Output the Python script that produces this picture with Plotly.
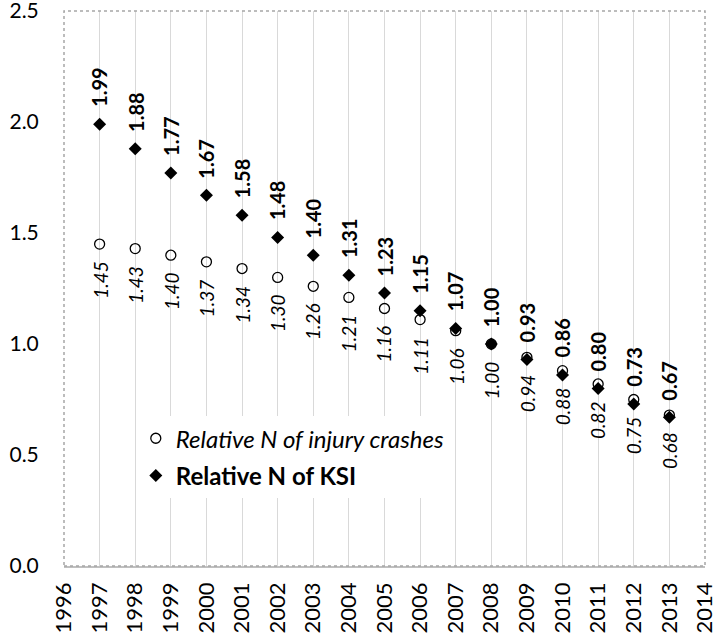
import plotly.graph_objects as go

years = list(range(1997, 2014))
injury = [1.45, 1.43, 1.40, 1.37, 1.34, 1.30, 1.26, 1.21, 1.16, 1.11, 1.06, 1.00, 0.94, 0.88, 0.82, 0.75, 0.68]
ksi = [1.99, 1.88, 1.77, 1.67, 1.58, 1.48, 1.40, 1.31, 1.23, 1.15, 1.07, 1.00, 0.93, 0.86, 0.80, 0.73, 0.67]
x_ticks = list(range(1996, 2015))
y_ticks = [0.0, 0.5, 1.0, 1.5, 2.0, 2.5]

FONT = "Lato"

fig = go.Figure()
fig.add_trace(go.Scatter(
    x=years, y=injury, mode="markers",
    name="<i>Relative N of injury crashes</i>",
    legendgroup="a",
    marker=dict(symbol="circle-open", size=10, color="black", line=dict(width=1.3, color="black")),
))
fig.add_trace(go.Scatter(
    x=years, y=ksi, mode="markers",
    name="<b>Relative N of KSI</b>",
    legendgroup="b",
    marker=dict(symbol="diamond", size=10, color="black"),
))

annotations = []
for yr, v in zip(years, ksi):
    annotations.append(dict(
        x=yr, y=v, xref="x", yref="y", text=f"{v:.2f}", showarrow=False,
        textangle=-90, xanchor="center", yanchor="bottom", yshift=15,
        font=dict(family=FONT, size=20, color="black", weight="bold"),
    ))
for yr, v in zip(years, injury):
    annotations.append(dict(
        x=yr, y=v, xref="x", yref="y", text=f"{v:.2f}", showarrow=False,
        textangle=-90, xanchor="center", yanchor="top", yshift=-15,
        font=dict(family=FONT, size=19, color="black", style="italic"),
    ))

fig.update_layout(
    width=713, height=640,
    margin=dict(l=64, r=8, t=11, b=74, autoexpand=False),
    paper_bgcolor="white", plot_bgcolor="white",
    font=dict(family=FONT, size=21, color="black"),
    showlegend=True,
    legend=dict(
        x=0.112, y=0.27, xanchor="left", yanchor="top",
        bgcolor="white", borderwidth=0,
        font=dict(family=FONT, size=24, color="black"),
        tracegroupgap=3, traceorder="grouped",
    ),
    annotations=annotations,
    shapes=[dict(type="rect", xref="paper", yref="paper", x0=0, y0=0, x1=1, y1=1,
                 line=dict(color="#a6a6a6", width=1.5, dash="dot"), layer="above")],
)
fig.update_xaxes(
    range=[1996, 2014.001], tickmode="array", tickvals=x_ticks,
    ticktext=[str(t) for t in x_ticks], tickangle=-90,
    showgrid=True, gridcolor="#d9d9d9", gridwidth=1.2,
    showline=True, linecolor="#bfbfbf", linewidth=1.5,
    ticks="outside", ticklen=6, tickcolor="rgba(0,0,0,0)",
    ticklabeloverflow="allow", automargin=False,
    tickfont=dict(family=FONT, size=22, color="black"), zeroline=False,
)
fig.update_yaxes(
    range=[0, 2.5001], tickmode="array", tickvals=y_ticks,
    ticktext=[f"{t:.1f}" for t in y_ticks],
    showgrid=False, zeroline=False, showline=False,
    ticks="outside", ticklen=20, tickcolor="rgba(0,0,0,0)",
    ticklabeloverflow="allow", automargin=False,
    tickfont=dict(family=FONT, size=21, color="black"),
)

# remove the default 8px page margin so the figure sits at the window's top-left
fig.write_html("out.html", config={"displayModeBar": False},
               post_script="document.body.style.margin='0px';")
